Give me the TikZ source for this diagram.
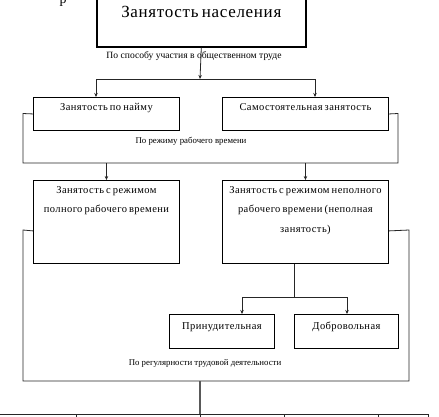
\documentclass[tikz,border=0pt]{standalone}
\usepackage{fontspec}
\setmainfont{Liberation Serif}
\usetikzlibrary{arrows.meta,calc}
\newcommand\bxt[5]{\parbox[t][#2][t]{#1}{\centering\fontsize{#5}{19.5}\selectfont\addfontfeature{LetterSpace=4}\spaceskip=0.2em plus 0.1em\rule{0pt}{#3}#4}}
\tikzset{
  box/.style={draw=black, line width=0.9pt, inner sep=0pt, anchor=north west},
  lbl/.style={inner sep=0pt, font=\fontsize{8.8}{10}\selectfont},
  conn/.style={draw=black!85, line width=0.8pt},
  arr/.style={conn, -{Stealth[length=4pt,width=3.5pt]}},
}
\begin{document}
\begin{tikzpicture}[x=1pt,y=-1pt]
\useasboundingbox (0,0) rectangle (439,416);
\clip (0,0) rectangle (439,416);
\node[inner sep=0pt, anchor=base, font=\fontsize{14}{16}\selectfont] (frag) at (63,3) {р};
\node[box, line width=1.6pt] (top) at (96,-10) {\bxt{209pt}{56pt}{26.5pt}{Занятость населения}{17}};
\node[box] (A) at (33,97) {\bxt{146pt}{33pt}{13.5pt}{Занятость по найму}{10.5}};
\node[box] (B) at (222,97) {\bxt{166pt}{33pt}{13.5pt}{Самостоятельная занятость}{10.5}};
\node[box] (C) at (33,180) {\bxt{146pt}{83pt}{13pt}{Занятость с режимом\\полного рабочего времени}{10.5}};
\node[box] (D) at (222,180) {\bxt{166pt}{83pt}{13pt}{Занятость с режимом неполного\\рабочего времени (неполная\\занятость)}{10.5}};
\node[box] (E) at (169,314) {\bxt{105pt}{34pt}{15pt}{Принудительная}{10.5}};
\node[box] (F) at (294,314) {\bxt{104pt}{34pt}{15pt}{Добровольная}{10.5}};
\node[lbl, font=\fontsize{9.6}{10}\selectfont] (l1) at (194,56) {По способу участия в общественном труде};
\node[lbl] (l2) at (191,141) {По режиму рабочего времени};
\node[lbl] (l3) at (205,363) {По регулярности трудовой деятельности};
% level 1
\coordinate (j1) at (200,79);
\draw[arr] (top.south) -- (j1);
\draw[conn] (96,79) -- (315,79);
\draw[arr] (96,79) -- (96,97);
\draw[arr] (315,79) -- (315,97);
% frame 1
\draw[conn] (A.west) -- (23,113.5) -- (23,163) -- (398,163) -- (398,113.5) -- (B.east);
\draw[arr] (C.north |- 0,163) -- (C.north);
\draw[arr] (D.north |- 0,163) -- (D.north);
% frame 2
\draw[conn] ($(C.south west)+(0,-33)$) -- (23,230) -- (23,381) -- (409,381) -- (409,230) -- ($(D.south east)+(0,-33)$);
\coordinate (j2) at (294,297);
\draw[conn] (D.south -| j2) -- (j2);
\draw[conn] (242,297) -- (347,297);
\draw[arr] (242,297) -- (242,314);
\draw[arr] (347,297) -- (F.north -| 347,0);
% bottom
\coordinate (j3) at (200,414);
\draw[draw=black!65, line width=1.4pt] (200,381) -- (j3);
\draw[conn] (0,414) -- (428,414);
\foreach \x in {76,200,284,378,428} \draw[conn] (\x,414) -- (\x,420);
\end{tikzpicture}
\end{document}
